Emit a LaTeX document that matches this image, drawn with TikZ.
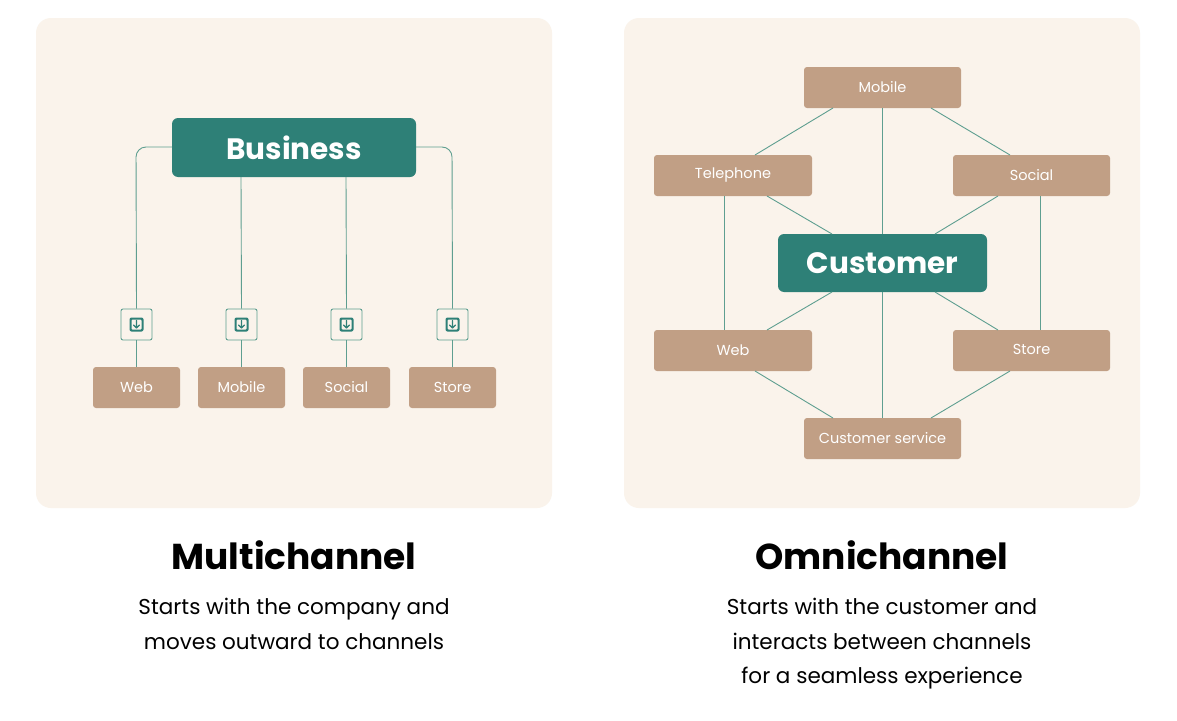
\documentclass[tikz,border=0pt]{standalone}
\usepackage{fontspec}
\setmainfont{Poppins}
\definecolor{panel}{HTML}{FAF3EB}
\definecolor{teal}{HTML}{2E8077}
\definecolor{tan}{HTML}{C19F85}
\definecolor{ln}{HTML}{5E9E90}
\begin{document}
\begin{tikzpicture}[x=1pt,y=-1pt,
  ch/.style={fill=tan,rounded corners=3pt},
  hub/.style={fill=teal,rounded corners=6pt},
  lab/.style={text=white,font=\fontsize{14.5}{15}\selectfont},
  hubl/.style={text=white,font=\fontsize{29.5}{30}\selectfont\bfseries},
  con/.style={draw=ln,line width=0.9pt},
  ttl/.style={font=\fontsize{36}{36}\selectfont\bfseries},
  sub/.style={font=\fontsize{21.5}{34.5}\selectfont,align=center}]
\useasboundingbox (0,0) rectangle (1177,720);
\fill[white] (0,0) rectangle (1177,720);
\fill[panel,rounded corners=15pt] (36,18) rectangle (552,508);
\fill[panel,rounded corners=15pt] (624,18) rectangle (1140,508);
% left
\fill[hub] (172,118) rectangle (416,177);
\node[hubl] (bus) at (294,147.5) {Business};
\foreach \n/\t/\a/\b in {w/Web/93/180,m/Mobile/198/285,s/Social/303/390,st/Store/409/496}{
  \fill[ch] (\a,367) rectangle (\b,408);
  \node[lab] (l\n) at ({(\a+\b)/2},387.5) {\t};
  \node[draw=ln,line width=0.9pt,rounded corners=2pt,minimum size=31pt,inner sep=0pt] (i\n) at ({(\a+\b)/2},324.5) {};
  \fill[teal,rounded corners=2pt] ({(\a+\b)/2-7},317.5) rectangle ({(\a+\b)/2+7},331.5);
  \fill[panel,rounded corners=1pt] ({(\a+\b)/2-5},319.5) rectangle ({(\a+\b)/2+5},329.5);
  \draw[teal,line width=1.3pt,line cap=round,line join=round] ({(\a+\b)/2},320.5) -- ({(\a+\b)/2},328) ({(\a+\b)/2-3},325) -- ({(\a+\b)/2},328) -- ({(\a+\b)/2+3},325);
  \draw[con] (i\n.south) -- (l\n.north |- 0,367);
}
\coordinate (bl) at (172,147); \coordinate (br) at (416,147);
\draw[con,rounded corners=10pt] (bl) -- (136,147) -- (iw.north);
\draw[con,rounded corners=10pt] (br) -- (452,147) -- (ist.north);
\draw[con] (241,177) -- (im.north);
\draw[con] (346,177) -- (is.north);
\node[ttl] (t1) at (294,555) {Multichannel};
\node[sub] (s1) at (294,624) {Starts with the company and\\moves outward to channels};
% right
\fill[ch] (804,67) rectangle (961,108); \node[lab] (mo) at (882.5,87.5) {Mobile};
\fill[ch] (654,155) rectangle (812,196); \node[lab] (te) at (733,175.5) {Telephone};
\fill[ch] (953,155) rectangle (1110,196); \node[lab] (so) at (1031.5,175.5) {Social};
\fill[hub] (778,234) rectangle (987,292); \node[hubl] (cu) at (882.5,263) {Customer};
\fill[ch] (654,330) rectangle (812,371); \node[lab] (we) at (733,350.5) {Web};
\fill[ch] (953,330) rectangle (1110,371); \node[lab] (stt) at (1031.5,349.5) {Store};
\fill[ch] (804,418) rectangle (961,459); \node[lab] (cs) at (882.5,438.5) {Customer service};
\draw[con] (833,108) -- (755,155);
\draw[con] (931,108) -- (1010,155);
\draw[con] (882,108) -- (882,234);
\draw[con] (767,196) -- (832,234);
\draw[con] (998,196) -- (935,234);
\draw[con] (724,196) -- (724,330);
\draw[con] (1040,196) -- (1040,330);
\draw[con] (832,292) -- (767,330);
\draw[con] (935,292) -- (998,330);
\draw[con] (882,292) -- (882,418);
\draw[con] (755,371) -- (833,418);
\draw[con] (1010,371) -- (931,418);
\node[ttl] (t2) at (882,555) {Omnichannel};
\node[sub] (s2) at (882,644) {Starts with the customer and\\interacts between channels\\for a seamless experience};
\end{tikzpicture}
\end{document}
